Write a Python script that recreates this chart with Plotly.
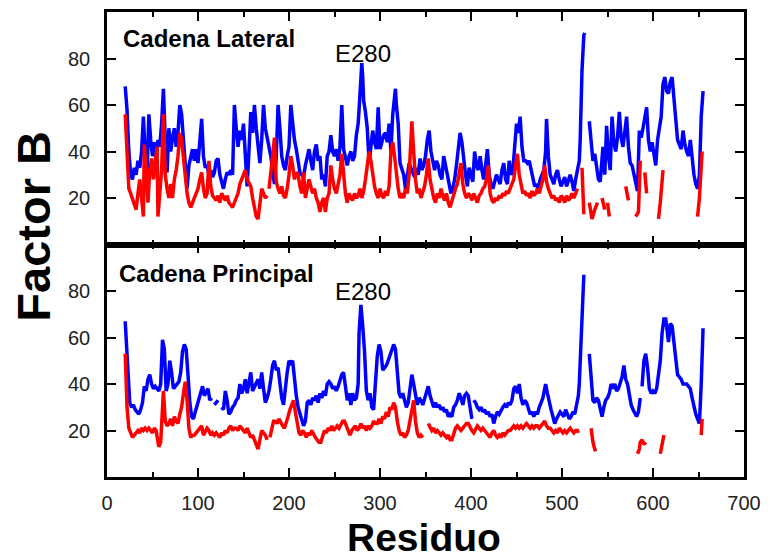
import plotly.graph_objects as go

# ---------------- data ----------------
N = None
# Top panel: "Cadena Lateral"
lat_blue_res = [20,22,24,26,28,30,32,34,36,38,40,42,44,46,48,50,52,54,56,58,60,62,64,66,68,70,72,74,76,78,80,82,84,86,88,90,92,94,96,98,100,102,104,106,108,110,112,114,116,118,120,122,124,126,128,130,132,134,136,138,140,142,144,146,148,150,152,154,156,158,160,162,164,166,168,170,172,174,176,178,180,182,184,186,188,190,192,194,196,198,200,202,204,206,208,210,212,214,216,218,220,222,224,226,228,230,232,234,236,238,240,242,244,246,248,250,252,254,256,258,260,262,264,266,268,270,272,274,276,277,279,280,281,282,284,286,288,290,292,294,296,298,300,302,304,306,308,310,312,314,316,317,318,320,322,324,326,328,330,332,334,336,338,340,342,344,346,348,350,352,354,356,358,360,362,364,366,368,370,372,374,376,378,380,382,384,386,388,390,392,394,396,398,400,402,404,406,408,410,412,414,416,418,420,422,424,426,428,430,432,434,436,438,440,442,444,446,448,450,452,454,456,458,460,462,464,466,468,470,472,474,476,478,480,482,483,485,487,489,491,493,495,497,499,501,503,505,507,509,511,513,515,517,519,520,522,524,525,N,530,532,534,536,538,540,542,544,545,547,549,551,553,555,557,559,561,563,565,567,569,571,573,575,577,579,581,583,585,587,589,591,593,595,597,599,601,603,605,607,609,611,613,615,617,619,621,623,625,627,629,631,633,635,637,639,641,643,645,647,649,651,653,655]
lat_blue_val = [68,58,40,30,28,33,30,36,33,40,55,38,30,56,45,38,44,36,45,42,52,67,45,31,50,40,46,50,42,48,60,56,45,36,24,34,38,41,36,41,35,44,54,38,33,34,30,32,29,31,36,37,30,27,24,28,31,30,32,30,60,50,42,49,45,52,40,25,40,57,48,60,50,42,35,45,60,50,46,42,38,32,26,38,60,50,38,34,32,38,42,60,52,45,41,36,31,30,29,34,38,41,36,32,40,43,36,38,28,30,25,38,40,47,40,38,41,36,42,60,41,38,34,38,40,36,38,47,52,58,70,78,72,62,57,50,35,42,49,44,41,59,41,44,47,48,44,52,40,56,62,67,60,52,35,32,30,24,30,35,33,31,29,33,30,37,32,34,38,45,49,40,36,32,36,34,30,28,38,33,30,26,22,24,28,34,40,48,44,36,30,25,33,30,27,40,34,32,38,32,28,34,41,30,26,24,27,30,28,26,32,35,28,26,36,30,32,45,52,48,55,42,36,36,35,36,32,28,25,26,24,28,30,32,40,54,38,30,28,26,30,32,28,25,27,29,25,27,30,27,23,28,33,36,45,75,90,91,N,53,42,36,39,34,28,27,35,42,30,51,38,32,55,44,40,46,57,46,42,48,55,42,35,34,30,26,23,49,46,50,54,59,45,40,44,38,34,45,50,55,69,72,66,65,70,72,63,55,45,43,41,49,43,40,38,45,36,30,26,24,30,55,66]

lat_red_res = [20,22,24,26,28,30,32,34,36,38,40,41,43,45,47,49,51,53,55,56,58,60,62,64,66,68,70,72,74,76,78,80,82,84,86,88,90,92,94,96,98,100,102,104,106,108,110,112,114,116,118,120,122,124,126,128,130,132,134,136,138,140,142,144,146,148,150,152,154,156,158,160,162,164,166,168,170,172,174,176,N,178,180,182,184,186,188,190,192,194,196,198,200,202,204,206,208,210,212,214,216,218,220,222,224,226,228,230,232,234,236,238,240,242,244,246,248,250,252,254,256,258,260,262,264,266,268,270,272,274,276,278,280,282,284,286,288,290,292,294,296,298,300,302,304,306,308,310,312,314,316,318,320,322,324,326,328,330,332,334,335,337,339,341,343,345,347,349,351,353,355,357,359,361,363,365,367,369,371,373,375,377,379,381,383,385,387,389,391,393,395,397,399,401,403,405,407,409,411,413,415,417,419,421,423,425,427,429,431,433,435,437,439,441,443,445,447,449,451,453,455,457,459,461,463,465,467,469,471,473,475,477,479,481,483,485,487,489,491,493,495,497,499,501,503,505,507,509,511,513,515,517,N,522,523,524,N,530,533,536,539,N,544,547,N,550,552,N,570,573,N,581,584,586,N,591,593,N,606,608,611,N,649,651,654]
lat_red_val = [56,38,24,22,20,18,15,22,28,20,12,43,30,18,32,37,28,35,42,12,25,32,56,30,24,20,26,20,28,32,38,48,45,37,28,22,18,16,18,20,22,24,28,31,24,20,22,36,25,21,20,19,21,18,22,20,19,21,18,17,16,18,20,22,26,28,31,32,28,26,25,20,15,12,11,18,24,22,20,21,N,24,30,38,46,27,24,22,25,21,20,24,30,38,34,28,31,30,25,22,31,20,24,28,25,22,24,20,18,14,18,20,14,20,22,34,28,24,22,26,30,39,28,22,18,22,20,19,22,20,21,24,20,23,28,34,40,36,30,25,22,20,24,21,20,23,21,25,40,44,38,30,24,20,22,20,24,22,30,45,53,40,28,22,24,20,22,25,30,37,28,23,20,18,22,20,24,21,19,22,18,16,19,21,24,26,30,35,26,22,20,22,21,19,22,20,18,21,22,24,25,28,34,22,19,18,20,19,21,20,22,21,23,22,24,25,28,34,39,30,26,22,23,21,22,20,23,21,22,24,22,25,28,34,27,24,22,20,21,19,20,18,21,20,18,21,19,20,22,20,22,24,N,33,22,13,N,18,11,15,18,N,20,15,N,18,12,N,25,19,N,12,14,36,N,31,22,N,11,18,32,N,12,20,40]

# Bottom panel: "Cadena Principal"
pri_blue_res = [20,22,23,25,27,29,31,33,35,37,39,41,43,45,47,49,51,53,55,57,59,60,61,63,65,67,69,71,73,75,77,79,81,83,85,87,89,91,93,95,97,99,101,103,105,107,109,111,113,115,N,118,120,122,N,126,128,130,132,134,136,138,140,142,144,146,148,150,152,154,156,158,160,162,164,166,168,170,172,174,176,178,180,182,184,186,188,190,192,194,196,198,200,202,204,206,208,210,212,214,216,218,220,222,224,226,228,230,232,234,236,238,240,242,244,246,248,250,252,254,256,258,260,262,264,266,268,270,272,274,276,277,279,281,283,285,287,289,291,293,295,297,299,301,303,305,307,309,311,313,315,317,319,321,323,325,327,329,331,333,335,337,339,341,343,345,347,349,351,353,355,357,359,361,363,365,367,369,371,373,375,377,379,381,383,385,387,389,391,393,395,397,399,401,N,403,405,407,409,411,413,415,417,419,421,423,425,427,429,431,433,435,437,439,441,443,445,447,449,451,453,455,457,459,461,463,465,467,469,471,473,475,477,479,481,482,484,486,488,490,492,494,496,498,500,502,504,506,508,510,512,514,516,518,519,521,523,524,N,530,532,534,536,538,540,542,544,546,548,550,552,554,556,558,560,562,564,566,568,570,572,574,576,578,580,582,584,586,N,588,590,592,594,596,598,600,602,604,606,608,610,612,614,616,617,619,621,623,625,627,629,631,633,635,637,639,641,643,645,647,649,651,653,655]
pri_blue_val = [67,50,43,32,30,31,29,28,27,29,32,39,37,42,44,40,38,39,38,37,40,50,59,55,37,40,50,45,38,39,40,41,45,54,57,55,44,32,26,25,28,31,34,37,39,35,37,38,33,34,N,31,32,33,N,30,29,37,33,27,28,30,31,33,34,40,36,38,42,36,41,45,37,39,41,42,38,45,38,32,34,37,42,48,50,46,47,40,34,31,39,45,50,49,50,42,35,30,27,25,22,24,32,33,31,34,33,35,32,36,34,37,35,40,41,40,38,39,37,39,42,44,45,40,33,36,31,36,33,34,40,62,74,65,54,37,33,36,30,29,39,52,57,54,46,47,48,50,52,55,57,55,46,36,34,36,33,30,32,38,44,40,35,31,34,33,31,34,37,39,35,32,30,32,30,31,29,30,28,29,26,27,26,30,31,33,36,34,31,35,36,35,30,25,N,33,32,30,29,30,28,29,27,28,26,27,23,26,28,27,29,30,31,30,32,31,33,38,39,36,40,34,31,33,32,29,27,28,26,28,27,30,32,34,38,40,36,32,29,26,23,25,27,28,27,26,29,27,25,26,28,27,32,35,40,60,82,87,N,53,40,33,32,34,33,29,26,30,33,34,36,40,38,40,37,38,41,43,48,42,40,35,31,29,27,26,28,34,N,39,50,53,47,38,36,37,36,38,43,50,62,68,68,60,58,66,65,58,50,44,43,42,40,40,40,39,38,34,30,27,25,23,40,64]

pri_red_res = [20,22,24,26,28,30,32,34,36,38,40,42,44,46,48,50,52,54,56,57,59,61,62,64,66,68,70,72,74,76,78,80,82,84,86,88,90,92,94,96,98,100,102,104,106,108,110,112,114,116,118,120,122,124,126,128,130,132,134,136,138,140,142,144,146,148,150,152,154,156,158,160,162,164,166,168,170,172,174,176,N,179,181,183,185,187,189,191,193,195,197,199,201,203,205,207,209,211,213,215,217,219,221,223,225,227,229,231,233,235,237,239,241,243,245,247,249,251,253,255,257,259,261,263,265,267,269,271,273,275,277,279,281,283,285,287,289,291,293,295,297,299,301,303,305,307,309,311,313,315,317,319,321,323,325,327,329,331,333,335,337,339,341,343,345,347,N,351,353,355,357,359,361,363,365,367,369,371,373,375,377,379,381,383,385,387,389,391,393,395,397,399,401,403,405,407,409,411,413,415,417,419,421,423,425,427,429,431,433,435,437,439,441,443,445,447,449,451,453,455,457,459,461,463,465,467,469,471,473,475,477,479,481,483,485,487,489,491,493,495,497,499,501,503,505,507,509,511,513,515,517,518,N,521,523,N,530,532,534,536,537,N,581,583,585,586,588,590,592,N,606,608,610,612,N,652,653,654]
pri_red_val = [53,30,21,19,17,18,19,20,19,21,20,21,20,21,20,19,21,20,15,13,15,28,37,24,22,23,25,22,26,24,23,27,30,36,41,33,21,17,18,18,19,20,21,22,18,20,21,20,18,19,18,19,18,17,19,18,20,19,21,22,20,21,21,20,22,21,20,19,21,19,17,18,16,13,12,16,20,19,18,16,N,17,21,24,24,23,25,23,22,21,23,26,29,31,33,28,23,19,18,20,19,17,19,18,20,18,17,16,15,15,18,20,19,21,20,22,20,21,22,21,23,24,24,22,20,18,20,21,22,20,21,23,21,22,20,22,21,22,24,23,23,25,23,26,25,28,26,30,29,32,30,24,20,18,19,17,18,20,24,28,33,24,19,17,18,17,18,N,23,21,20,21,19,20,19,18,19,18,17,18,16,16,19,21,22,21,20,21,22,23,23,21,20,19,21,22,21,20,21,20,19,18,17,19,20,18,17,18,17,19,18,19,20,20,21,22,21,22,21,22,21,22,23,22,21,22,21,22,22,21,22,23,24,22,21,21,20,19,20,19,21,20,19,20,19,20,21,20,19,20,20,19,20,N,31,14,N,21,15,12,11,11,N,10,12,15,16,14,15,12,N,10,14,18,16,N,18,25,41]

x_ticks = [0, 100, 200, 300, 400, 500, 600, 700]
y_ticks = [20, 40, 60, 80]
panel_titles = ["Cadena Lateral", "Cadena Principal"]
peak_label = "E280"
x_title = "Residuo"
y_title = "Factor B"

BLUE = "#0000FF"
RED = "#FF0000"
FONT = "Liberation Sans, Arial, sans-serif"

fig = go.Figure()
for xs, ys, col, ya in [(lat_blue_res, lat_blue_val, BLUE, "y"),
                        (lat_red_res, lat_red_val, RED, "y"),
                        (pri_blue_res, pri_blue_val, BLUE, "y2"),
                        (pri_red_res, pri_red_val, RED, "y2")]:
    fig.add_trace(go.Scatter(x=xs, y=ys, mode="lines", line=dict(color=col, width=3.5),
                             xaxis="x" if ya == "y" else "x2", yaxis=ya,
                             connectgaps=False, showlegend=False, hoverinfo="skip"))

xcommon = dict(range=[0, 700], tickvals=x_ticks, ticks="inside", ticklen=9, tickwidth=2,
               tickcolor="black", showline=True, linewidth=2.5, linecolor="black",
               mirror="ticks", showgrid=False, zeroline=False,
               minor=dict(ticks="inside", ticklen=5, tickwidth=2, dtick=50, tick0=0, tickcolor="black"),
               tickfont=dict(family=FONT, size=20, color="#222"))
ycommon = dict(range=[0, 100], tickvals=y_ticks, ticks="inside", ticklen=9, tickwidth=2,
               tickcolor="black", showline=True, linewidth=2.5, linecolor="black",
               mirror="ticks", showgrid=False, zeroline=False,
               tickfont=dict(family=FONT, size=20, color="#222"), ticklabelstandoff=10)

fig.update_layout(
    width=770, height=559,
    margin=dict(l=107, r=19, t=9, b=82),
    paper_bgcolor="white", plot_bgcolor="white",
    xaxis=dict(domain=[0, 1], anchor="y", showticklabels=False, **xcommon),
    xaxis2=dict(domain=[0, 1], anchor="y2", showticklabels=True, ticklabelstandoff=6, **xcommon),
    yaxis=dict(domain=[0.5, 1], anchor="x", **ycommon),
    yaxis2=dict(domain=[0, 0.5], anchor="x2", **ycommon),
)

ann = [
    dict(text=f"<b>{panel_titles[0]}</b>", x=15, y=88.5, xref="x", yref="y", xanchor="left",
         yanchor="middle", showarrow=False, font=dict(family=FONT, size=24, color="black")),
    dict(text=f"<b>{panel_titles[1]}</b>", x=11, y=87.5, xref="x2", yref="y2", xanchor="left",
         yanchor="middle", showarrow=False, font=dict(family=FONT, size=24, color="black")),
    dict(text=peak_label, x=281, y=82, xref="x", yref="y", xanchor="center", yanchor="middle",
         showarrow=False, font=dict(family=FONT, size=24, color="black")),
    dict(text=peak_label, x=281, y=80, xref="x2", yref="y2", xanchor="center", yanchor="middle",
         showarrow=False, font=dict(family=FONT, size=24, color="black")),
    dict(text=f"<b>{y_title}</b>", x=-0.115, y=0.54, xref="paper", yref="paper", textangle=-90,
         xanchor="center", yanchor="middle",
         showarrow=False, font=dict(family=FONT, size=47, color="black")),
    dict(text=f"<b>{x_title}</b>", x=0.498, y=-0.13, xref="paper", yref="paper",
         xanchor="center", yanchor="middle",
         showarrow=False, font=dict(family=FONT, size=39, color="black")),
]
fig.update_layout(annotations=ann)

fig.write_html("out.html", config={"displayModeBar": False},
               post_script="document.body.style.margin='0px';")
